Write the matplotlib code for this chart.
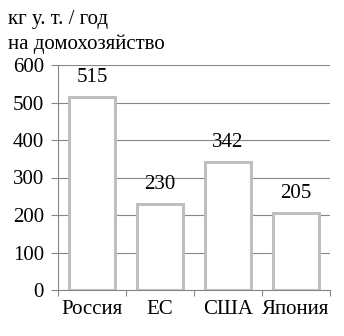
import matplotlib
matplotlib.use("Agg")
import matplotlib.pyplot as plt
import numpy as np

categories = ["Россия", "ЕС", "США", "Япония"]
values = [515, 230, 342, 205]
yticks = [0, 100, 200, 300, 400, 500, 600]

plt.rcParams['font.family'] = ['Liberation Serif', 'DejaVu Serif']
FS = 15

fig = plt.figure(figsize=(3.44, 3.36), dpi=100)
ax = fig.add_axes([58/344, 46/336, 272/344, 225/336])

x = np.arange(len(categories))
ax.bar(x, values, width=0.68, facecolor='white', edgecolor='#bfbfbf', linewidth=2.2, zorder=3)

for xi, v in zip(x, values):
    ax.annotate(str(v), (xi, v), xytext=(0, 7), textcoords='offset points',
                ha='center', va='bottom', fontsize=FS, color='black')

ax.set_xlim(-0.5, len(categories) - 0.5)
ax.set_ylim(0, 600)
ax.set_yticks(yticks)
ax.set_yticklabels([str(t) for t in yticks], fontsize=FS)
ax.yaxis.grid(True, color='#878787', linewidth=0.8, zorder=0)
ax.set_axisbelow(True)

ax.set_xticks(np.arange(len(categories) + 1) - 0.5)
ax.set_xticklabels([])
ax.set_xticks(x, minor=True)
ax.set_xticklabels(categories, minor=True, fontsize=FS)
ax.tick_params(axis='x', which='minor', length=0, pad=7)
ax.tick_params(axis='x', which='major', length=4, color='#878787', width=0.8)
ax.tick_params(axis='y', length=5, color='#878787', width=0.8, pad=5)

for s in ['top', 'right']:
    ax.spines[s].set_visible(False)
for s in ['left', 'bottom']:
    ax.spines[s].set_color('#878787')
    ax.spines[s].set_linewidth(0.8)

fig.text(8/344, 1 - 24/336, "кг у. т. / год", fontsize=FS, va='baseline', ha='left')
fig.text(8/344, 1 - 49/336, "на домохозяйство", fontsize=FS, va='baseline', ha='left')

fig.savefig("out.png", dpi=100)
